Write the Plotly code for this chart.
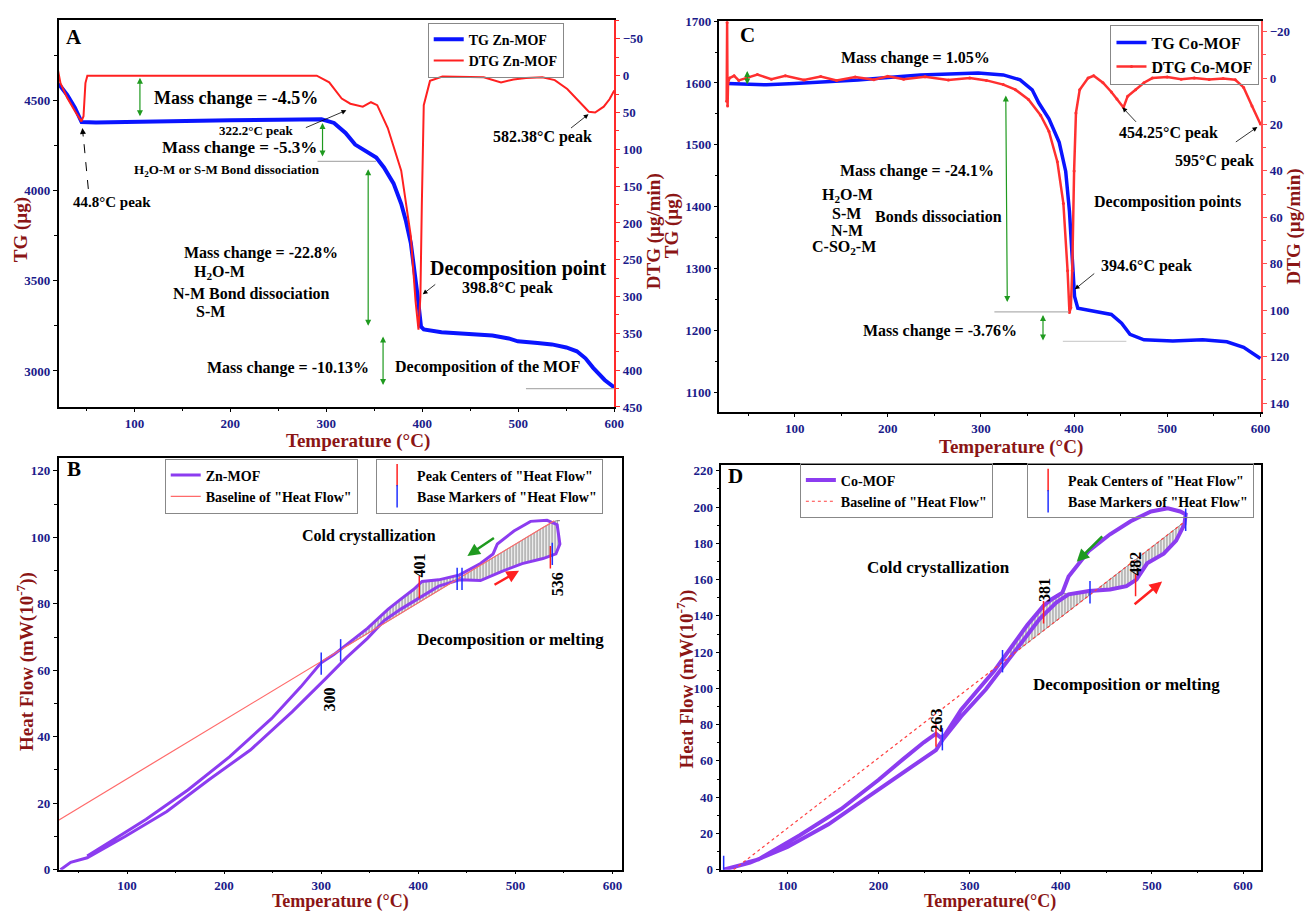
import numpy as np
import plotly.graph_objects as go

W, H = 1314, 920
SERIF = "Liberation Serif, Times New Roman, serif"
NAVY = "#1b1b8a"
DARKRED = "#8b1515"
BLUE = "#0a14ff"
RED = "#ff2020"
PURPLE = "#8c3cf0"
GREEN = "#1f9a1f"

# ---------------- Panel A : Zn-MOF TG / DTG ----------------
a_tg_temp = [21, 30, 38, 45, 60, 100, 150, 200, 250, 295, 308, 320, 330, 342, 352, 360, 370, 378,
             383, 388, 392, 395, 398.6, 401.5, 420, 438, 473, 490, 499.5, 520, 535, 550, 561, 570,
             578, 590, 600]
a_tg = [4593, 4530, 4460, 4380, 4378, 4380, 4385, 4390, 4393, 4395, 4375, 4320, 4255, 4215, 4183,
        4128, 4040, 3927, 3830, 3709, 3560, 3420, 3246, 3230, 3215, 3207, 3196, 3180, 3164, 3155,
        3147, 3130, 3109, 3070, 3017, 2950, 2908]
a_dtg_temp = [20, 20.5, 23, 30, 38, 44.8, 47, 49, 51, 100, 150, 200, 250, 290, 303, 316, 325, 338,
              346.5, 353, 364, 378, 388, 393, 396, 398, 399.5, 401.5, 408, 421, 464, 482, 495, 508,
              525, 538, 551, 565, 573.5, 580, 589, 595, 600]
a_dtg = [-5, -7, 10, 30, 48, 62, 55, 10, 0, 0, -1, 0, 0, 0, 9, 31, 38, 42, 36, 40, 71, 129, 218,
         307, 345, 300, 174, 40, 7, 1, 2, 9, 5, 3, 2, 6, 18, 38, 49, 50, 42, 32, 20]

# ---------------- Panel C : Co-MOF TG / DTG ----------------
c_tg_temp = [28, 50, 70, 100, 128, 168, 200, 235, 297, 324, 342, 355, 362, 373, 384, 391, 395, 399,
             400.5, 404, 422, 440, 451, 460, 475, 506, 538, 564, 582, 600]
c_tg = [1599, 1598, 1597, 1599, 1601, 1605, 1609, 1613, 1616, 1613, 1605, 1589, 1568, 1542, 1504,
        1457, 1393, 1297, 1255, 1236, 1231, 1226, 1212, 1194, 1185, 1183, 1185, 1182, 1173, 1155]
c_dtg_temp = [27, 27.5, 28, 28.5, 30, 35, 40, 48, 60, 75, 90, 110, 128, 145, 165, 185, 200, 217,
              240, 265, 288, 306, 324, 337, 351, 364, 373, 382, 388.5, 393, 395, 396.5, 398, 400,
              402, 406, 415, 421, 431, 440, 446, 453, 457.5, 466, 475, 484, 500, 515, 529, 545,
              560, 573, 582, 591, 600]
c_dtg = [10, -24, 12, 2, 0, -1, 1, 0, -1.5, 0.5, -1, 0.8, -0.7, 1, -0.5, 0.7, -0.8, 0.5, -0.6, 0.8,
         0, 1, 2.8, 5, 9.2, 16, 23, 36, 54, 83, 101, 99, 83, 40, 15, 5, 0, -1, 2, 6, 9, 12.7, 7.8,
         5, 2, 0, -0.5, 0.5, 0, 0.6, 0.2, 0.7, 4, 12, 19.8]

# ---------------- Panel B : Zn-MOF heat flow ----------------
zn_heat_T = [31.5, 42, 59, 98, 141, 184, 227, 270, 304.6, 326, 347.6, 365, 382, 399.6, 421, 442.5,
             464, 485.5, 507, 528.4, 541.7, 545.8, 543]
zn_heat_hf = [0, 2.2, 3.6, 10, 17.5, 27, 36, 47.5, 57.5, 63.8, 69.6, 75, 78.4, 81.4, 85.3, 87.2,
              87, 89.7, 92.1, 93.6, 95, 98, 103.8]
zn_cool_T = [532.6, 515.6, 498.5, 481.4, 477, 464, 442.5, 421, 403.9, 395, 382, 369, 347.6, 326,
             313, 300, 279, 249, 205.8, 162.7, 119.7, 98, 59]
zn_cool_hf = [105.1, 104.8, 101.9, 98, 95, 92.1, 88.7, 87.2, 86.7, 84.3, 81.4, 78.4, 72.6, 67.7,
              64.7, 62.3, 55, 45.5, 34, 24, 15.2, 11.2, 4.1]
zn_base_T = [29.5, 540]
zn_base_hf = [14.9, 105]
zn_peak_T = [401, 536]
zn_peak_hf = [85, 94]
zn_mark_T = [300, 320, 440, 445, 538]
zn_mark_hf = [62, 66, 87.5, 87.5, 95]
zn_peak_labels = ["300", "401", "536"]

# ---------------- Panel D : Co-MOF heat flow ----------------
co_heat_T = [29.7, 59, 100, 145, 190.7, 227, 250, 263, 270, 290.6, 317.8, 336, 354, 376.8, 395,
             408.5, 431, 454, 472, 483, 494.7, 512.9, 526.5, 535.6, 537]
co_heat_hf = [0, 3.9, 12.5, 25, 41, 53.5, 61, 66, 71.5, 84.5, 99.5, 111.5, 124, 138.4, 147.4,
              151.9, 153.7, 154.6, 156.4, 160, 169, 174.3, 181.5, 190.4, 196]
co_cool_T = [531, 517.4, 499, 476.6, 454, 431, 408.5, 401.7, 390, 381, 363, 345, 326.9, 308.7,
             290.6, 272.4, 268, 263, 249.7, 227, 218, 199.8, 159, 113.6, 68.2, 52]
co_cool_hf = [197.6, 199.4, 197.6, 192.2, 185, 176, 161.7, 152.8, 149.2, 145.6, 134.8, 122.3,
              109.7, 99, 88.2, 74, 73, 75, 70.3, 61, 57, 49.5, 33.5, 19, 5.7, 3.4]
co_base_T = [41, 536.5]
co_base_hf = [0, 192.2]
co_peak_T = [263, 381, 482]
co_peak_hf = [74, 142, 157]
co_mark_T = [30, 270, 336, 432, 537]
co_mark_hf = [1.5, 72, 115, 153, 193]
co_peak_labels = ["263", "381", "482"]


def P(px, py):
    return px / W, 1 - py / H


annotations = []
shapes = []


def txt(px, py, text, size=16, color="black", angle=0, xanchor="center"):
    x, y = P(px, py)
    annotations.append(dict(x=x, y=y, xref="paper", yref="paper", text=text, showarrow=False,
                            font=dict(family=SERIF, size=size, color=color, weight="bold"),
                            textangle=angle, xanchor=xanchor, yanchor="middle"))


def arrow(hx, hy, tx, ty, color="black", width=1, head=2, size=1, both=False):
    x, y = P(hx, hy)
    annotations.append(dict(x=x, y=y, xref="paper", yref="paper", ax=tx - hx, ay=ty - hy,
                            axref="pixel", ayref="pixel", text="", showarrow=True,
                            arrowhead=head, arrowsize=size, arrowwidth=width, arrowcolor=color,
                            arrowside="end+start" if both else "end",
                            startarrowhead=head, startarrowsize=size, standoff=0, startstandoff=0))


def hline(x0, x1, py, color="#b0b0b0", width=1.2, dash=None):
    shapes.append(dict(type="line", xref="paper", yref="paper", x0=x0 / W, x1=x1 / W,
                       y0=1 - py / H, y1=1 - py / H, line=dict(color=color, width=width, dash=dash)))


def seg(x0, y0, x1, y1, color="black", width=1, dash=None):
    shapes.append(dict(type="line", xref="paper", yref="paper", x0=x0 / W, x1=x1 / W,
                       y0=1 - y0 / H, y1=1 - y1 / H, line=dict(color=color, width=width, dash=dash)))


fig = go.Figure()

# ---- Panel A traces
fig.add_trace(go.Scatter(x=a_tg_temp, y=a_tg, mode="lines", name="TG Zn-MOF",
                         line=dict(color=BLUE, width=4), xaxis="x", yaxis="y", legend="legend"))
fig.add_trace(go.Scatter(x=a_dtg_temp, y=a_dtg, mode="lines", name="DTG Zn-MOF",
                         line=dict(color=RED, width=2), xaxis="x", yaxis="y2", legend="legend"))

# ---- Panel C traces
fig.add_trace(go.Scatter(x=c_tg_temp, y=c_tg, mode="lines", name="TG Co-MOF",
                         line=dict(color=BLUE, width=3.5), xaxis="x2", yaxis="y3", legend="legend2"))
fig.add_trace(go.Scatter(x=c_dtg_temp, y=c_dtg, mode="lines+markers", name="DTG Co-MOF",
                         line=dict(color="#ff3030", width=2.5), marker=dict(size=3, color="#ff3030"),
                         xaxis="x2", yaxis="y4", legend="legend2"))


def hatch_poly(Ts, Hs, bT, bH):
    Ts = list(Ts)
    Hs = list(Hs)
    back = Ts[::-1]
    base = list(np.interp(back, bT, bH))
    return Ts + back + [Ts[0]], Hs + base + [Hs[0]]


PATTERN = dict(shape="|", fgcolor="#222222", size=3, solidity=0.45)

# ---- Panel B traces
zcT = np.array(zn_cool_T)
zcH = np.array(zn_cool_hf)
sel = (zcT >= 320) & (zcT <= 443)
order = np.argsort(zcT[sel])
hx, hy = hatch_poly(zcT[sel][order], zcH[sel][order], zn_base_T, zn_base_hf)
fig.add_trace(go.Scatter(x=hx, y=hy, mode="lines", fill="toself", fillcolor="rgba(0,0,0,0)",
                         fillpattern=PATTERN, line=dict(width=0.5, color="#555"),
                         showlegend=False, xaxis="x3", yaxis="y5"))
zhT = np.array(zn_heat_T)
zhH = np.array(zn_heat_hf)
sel = (zhT >= 442) & (zhT <= 546)
hx, hy = hatch_poly(zhT[sel], zhH[sel], zn_base_T, zn_base_hf)
fig.add_trace(go.Scatter(x=hx, y=hy, mode="lines", fill="toself", fillcolor="rgba(0,0,0,0)",
                         fillpattern=PATTERN, line=dict(width=0.5, color="#555"),
                         showlegend=False, xaxis="x3", yaxis="y5"))
fig.add_trace(go.Scatter(x=zn_heat_T + zn_cool_T, y=zn_heat_hf + zn_cool_hf, mode="lines",
                         name="Zn-MOF", line=dict(color=PURPLE, width=3),
                         xaxis="x3", yaxis="y5", legend="legend3"))
fig.add_trace(go.Scatter(x=zn_base_T, y=zn_base_hf, mode="lines", name='Baseline of "Heat Flow"',
                         line=dict(color="#ff6a6a", width=1.2), xaxis="x3", yaxis="y5",
                         legend="legend3"))
fig.add_trace(go.Scatter(x=zn_peak_T, y=zn_peak_hf, mode="markers", name='Peak Centers of "Heat Flow"',
                         marker=dict(symbol="line-ns", size=16, line=dict(width=1.5, color="#ff2020")),
                         xaxis="x3", yaxis="y5", legend="legend4"))
fig.add_trace(go.Scatter(x=zn_mark_T, y=zn_mark_hf, mode="markers", name='Base Markers of "Heat Flow"',
                         marker=dict(symbol="line-ns", size=16, line=dict(width=1.5, color="#2030ff")),
                         xaxis="x3", yaxis="y5", legend="legend4"))

# ---- Panel D traces
chT = np.array(co_heat_T)
chH = np.array(co_heat_hf)
ccT = np.array(co_cool_T)
ccH = np.array(co_cool_hf)
s1 = (ccT >= 336) & (ccT <= 402)
o1 = np.argsort(ccT[s1])
s2 = (chT >= 405) & (chT <= 432)
bT = list(ccT[s1][o1]) + list(chT[s2])
bH = list(ccH[s1][o1]) + list(chH[s2])
hx, hy = hatch_poly(bT, bH, co_base_T, co_base_hf)
fig.add_trace(go.Scatter(x=hx, y=hy, mode="lines", fill="toself", fillcolor="rgba(0,0,0,0)",
                         fillpattern=PATTERN, line=dict(width=0.5, color="#555"),
                         showlegend=False, xaxis="x4", yaxis="y6"))
s3 = (chT >= 430) & (chT <= 538)
hx, hy = hatch_poly(chT[s3], chH[s3], co_base_T, co_base_hf)
fig.add_trace(go.Scatter(x=hx, y=hy, mode="lines", fill="toself", fillcolor="rgba(0,0,0,0)",
                         fillpattern=PATTERN, line=dict(width=0.5, color="#555"),
                         showlegend=False, xaxis="x4", yaxis="y6"))
fig.add_trace(go.Scatter(x=co_heat_T + co_cool_T, y=co_heat_hf + co_cool_hf, mode="lines",
                         name="Co-MOF", line=dict(color=PURPLE, width=4),
                         xaxis="x4", yaxis="y6", legend="legend5"))
fig.add_trace(go.Scatter(x=co_base_T, y=co_base_hf, mode="lines", name='Baseline of "Heat Flow"',
                         line=dict(color="#ff4040", width=1.2, dash="dot"), xaxis="x4", yaxis="y6",
                         legend="legend5"))
fig.add_trace(go.Scatter(x=co_peak_T, y=co_peak_hf, mode="markers", name='Peak Centers of "Heat Flow"',
                         marker=dict(symbol="line-ns", size=16, line=dict(width=1.5, color="#ff2020")),
                         xaxis="x4", yaxis="y6", legend="legend6"))
fig.add_trace(go.Scatter(x=co_mark_T, y=co_mark_hf, mode="markers", name='Base Markers of "Heat Flow"',
                         marker=dict(symbol="line-ns", size=16, line=dict(width=1.5, color="#2030ff")),
                         xaxis="x4", yaxis="y6", legend="legend6"))

# ---------------- annotations : panel A ----------------
txt(75, 31, "A", 21)
txt(238, 93, "Mass change = -4.5%", 18)
txt(258, 126, "322.2°C peak", 13)
txt(241, 143, "Mass change = -5.3%", 17)
txt(229, 166, "H<sub>2</sub>O-M or S-M Bond dissociation", 13)
txt(113, 198, "44.8°C peak", 15)
txt(263, 250, "Mass change = -22.8%", 16)
txt(221, 270, "H<sub>2</sub>O-M", 16)
txt(253, 291, "N-M Bond dissociation", 16)
txt(212, 310, "S-M", 16)
txt(522, 266, "Decomposition point", 20)
txt(511, 286, "398.8°C peak", 16)
txt(290, 367, "Mass change = -10.13%", 16)
txt(492, 366, "Decomposition of the MOF", 16)
txt(547, 132, "582.38°C peak", 16)
arrow(141, 72, 141, 112, GREEN, 1.2, 2, 1, True)
arrow(325, 118, 325, 153, GREEN, 1.2, 2, 1, True)
arrow(371, 165, 371, 323, GREEN, 1.2, 2, 1, True)
arrow(386, 335, 386, 385, GREEN, 1.2, 2, 1, True)
arrow(349, 105, 307, 123, "black", 0.8, 2, 1.2)
arrow(426, 292, 440, 281, "black", 0.8, 2, 1.2)
arrow(593, 109, 574, 124, "black", 0.8, 2, 1.2)
seg(89, 185, 84, 132, "black", 1, "dash")
arrow(83, 123, 84, 133, "black", 1, 2, 1.2)
hline(320, 379, 157)
hline(530, 619, 388)
txt(21, 226, "TG (µg)", 19, DARKRED, -90)
txt(659, 228, "DTG (µg/min)", 19, DARKRED, -90)
txt(361, 441, "Temperature (°C)", 19, DARKRED)

# ---------------- annotations : panel C ----------------
txt(753, 28, "C", 21)
txt(923, 52, "Mass change = 1.05%", 16)
txt(924, 167, "Mass change = -24.1%", 16)
txt(854, 192, "H<sub>2</sub>O-M", 16)
txt(853, 210, "S-M", 16)
txt(853, 227, "N-M", 16)
txt(850, 244, "C-SO<sub>2</sub>-M", 16)
txt(946, 213, "Bonds dissociation", 16)
txt(947, 329, "Mass change = -3.76%", 16)
txt(1155, 263, "394.6°C peak", 16)
txt(1176, 198, "Decomposition points", 16)
txt(1177, 128, "454.25°C peak", 16)
txt(1224, 157, "595°C peak", 16)
arrow(753, 65, 753, 80, GREEN, 1.2, 2, 1, True)
arrow(1013.5, 90, 1015, 298, GREEN, 1.2, 2, 1, True)
arrow(1051, 313, 1051, 340, GREEN, 1.2, 2, 1, True)
arrow(1083, 287, 1104, 270, "black", 0.8, 2, 1.2)
arrow(1131, 102, 1146, 118, "black", 0.8, 2, 1.2)
arrow(1267, 122, 1244, 138, "black", 0.8, 2, 1.2)
hline(1002, 1077, 310)
hline(1071, 1135, 340, "#d0d0d0")
txt(678, 222, "TG (µg)", 19, DARKRED, -90)
txt(1304, 223, "DTG (µg/min)", 19, DARKRED, -90)
txt(1019, 447, "Temperature (°C)", 19, DARKRED)

# ---------------- annotations : panel B ----------------
txt(75, 470, "B", 21)
txt(372, 538, "Cold crystallization", 16)
txt(514, 643, "Decomposition or melting", 17)
for lab, (px, py) in zip(zn_peak_labels, [(332.5, 704), (423, 568), (562, 587)]):
    txt(px, py, lab, 16, "black", -90)
arrow(471, 558, 499, 539, GREEN, 2.5, 2, 1)
arrow(523, 573, 497, 588, "#ff2020", 2.5, 2, 1)
txt(25, 665, "Heat Flow (mW(10<sup>-7</sup>))", 19, DARKRED, -90)
txt(343, 909, "Temperature (°C)", 18, DARKRED)

# ---------------- annotations : panel D ----------------
txt(741, 477, "D", 21)
txt(946, 570, "Cold crystallization", 17)
txt(1135, 689, "Decomposition or melting", 17)
for lab, (px, py) in zip(co_peak_labels, [(943.6, 725), (1052.8, 593), (1144.6, 566)]):
    txt(px, py, lab, 16, "black", -90)
arrow(1085, 564, 1112, 537, GREEN, 2.5, 2, 1)
arrow(1171, 584, 1142, 608, "#ff2020", 2.5, 2, 1)
txt(691, 683, "Heat Flow (mW(10<sup>-7</sup>))", 19, DARKRED, -90)
txt(998, 909, "Temperature(°C)", 18, DARKRED)

# ---------------- axes ----------------
TICKFONT = dict(family=SERIF, size=13, color=NAVY, weight="bold")


def xax(domain, rng, anchor, mirror=True):
    return dict(domain=domain, range=rng, anchor=anchor, showline=True, linecolor="black",
                linewidth=1.5, mirror=mirror, ticks="outside", ticklen=3, tickcolor="black",
                tickfont=TICKFONT, tick0=0, dtick=100, showgrid=False, zeroline=False,
                minor=dict(ticks="outside", ticklen=2, dtick=50, tickcolor="black"))


def yax(domain, rng, anchor, dtick, mdtick, mirror=False, side="left", linecolor="black",
        overlaying=None):
    d = dict(domain=domain, range=rng, anchor=anchor, side=side, showline=True,
             linecolor=linecolor, linewidth=1.5, mirror=mirror, ticks="outside", ticklen=4,
             tickcolor=linecolor, tickfont=TICKFONT, tick0=0, dtick=dtick, showgrid=False,
             zeroline=False, minor=dict(ticks="outside", ticklen=3, dtick=mdtick, tickcolor=linecolor))
    if overlaying:
        d["overlaying"] = overlaying
        d.pop("domain")
    return d


dA_x = [59 / W, 619 / W]
dA_y = [1 - 407 / H, 1 - 13 / H]
dC_x = [725 / W, 1271 / W]
dC_y = [1 - 412 / H, 1 - 14 / H]
dB_x = [59 / W, 627 / W]
dB_y = [1 - 877 / H, 1 - 458 / H]
dD_x = [727 / W, 1271 / W]
dD_y = [1 - 877 / H, 1 - 466 / H]


def leg(px, py, size=15):
    x, y = P(px, py)
    return dict(x=x, y=y, xanchor="left", yanchor="top", bgcolor="rgba(255,255,255,0)",
                bordercolor="#888888", borderwidth=1,
                font=dict(family=SERIF, size=size, color="black", weight="bold"),
                itemwidth=30, tracegroupgap=0)


fig.update_layout(
    width=W, height=H, margin=dict(l=0, r=0, t=0, b=0),
    paper_bgcolor="white", plot_bgcolor="white",
    xaxis=xax(dA_x, [21, 600], "y"),
    yaxis=yax(dA_y, [2798, 4947], "x", 500, 250),
    yaxis2=yax(None, [450.5, -76], "x", 50, 25, side="right", linecolor="#ff2a2a", overlaying="y"),
    xaxis2=xax(dC_x, [19.3, 601], "y3"),
    yaxis3=yax(dC_y, [1068, 1700.5], "x2", 100, 50),
    yaxis4=yax(None, [144, -24.7], "x2", 20, 10, side="right", linecolor="#ff5050", overlaying="y3"),
    xaxis3=xax(dB_x, [29.5, 610], "y5"),
    yaxis5=yax(dB_y, [0, 124], "x3", 20, 10, mirror=True),
    xaxis4=xax(dD_x, [27.6, 620], "y6"),
    yaxis6=yax(dD_y, [0, 223], "x4", 20, 10, mirror=True),
    legend=leg(431, 16, 14),
    legend2=leg(1119, 18, 16),
    legend3=leg(166, 459, 14),
    legend4=leg(379, 459, 14),
    legend5=leg(806, 464, 14),
    legend6=leg(1035, 464, 14),
    annotations=annotations,
    shapes=shapes,
)

fig.write_html("out.html", config={"displayModeBar": False},
               post_script="document.body.style.margin='0';document.body.style.overflow='hidden';")
